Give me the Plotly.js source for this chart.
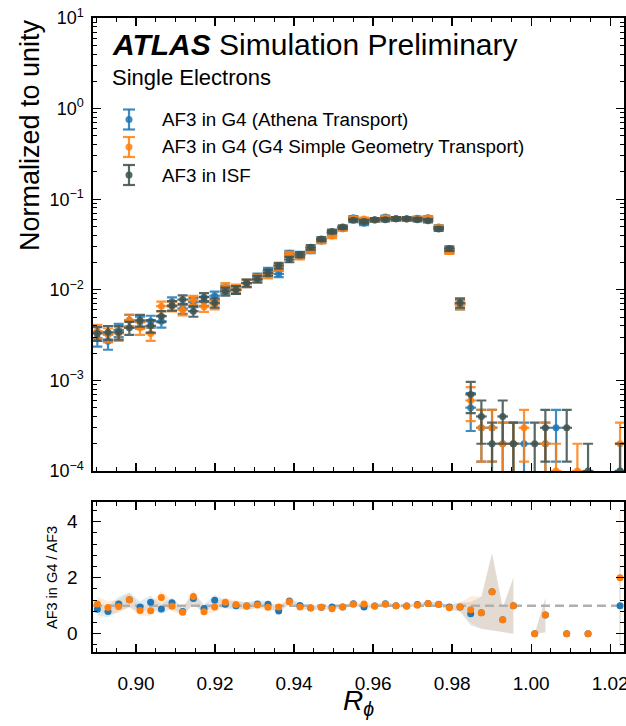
<!DOCTYPE html>
<html><head><meta charset="utf-8">
<script src="https://cdn.plot.ly/plotly-3.0.1.min.js"></script>
<style>html,body{margin:0;padding:0;background:#fff}#chart{width:626px;height:726px}</style>
</head><body><div id="chart"></div>
<script>
// ---------------- data ----------------
const binCenters = [0.8902,0.8929,0.8956,0.8983,0.9010,0.9037,0.9064,0.9091,0.9118,0.9145,
  0.9172,0.9199,0.9226,0.9253,0.9280,0.9307,0.9334,0.9361,0.9388,0.9415,
  0.9442,0.9469,0.9496,0.9523,0.9550,0.9577,0.9604,0.9631,0.9658,0.9685,
  0.9712,0.9739,0.9766,0.9793,0.9820,0.9847,0.9874,0.9901,0.9928,0.9955,
  0.9982,1.0009,1.0036,1.0063,1.0090,1.0117,1.0144,1.0171,1.0198,1.0225];
const halfBin = 0.00135;

// AF3 in ISF (reference)
const isf = [0.0033,0.0034,0.0034,0.0038,0.0046,0.0040,0.0051,0.0067,0.0078,0.0058,
  0.0083,0.0072,0.0096,0.0100,0.0119,0.0131,0.0154,0.0185,0.0216,0.0244,
  0.0294,0.0363,0.0441,0.0493,0.0584,0.0569,0.0594,0.0594,0.0609,0.0609,
  0.0594,0.0579,0.0469,0.0285,0.0072,0.0007,0.0004,0.0002,0.0004,0.0002,
  null,0.0002,0.0003,null,0.0003,null,0.0001,null,null,0.0001];
// AF3 in G4 (Athena Transport)
const athena = [0.0029,0.0027,0.0036,0.0046,0.0044,0.0045,0.0045,0.0074,0.0062,0.0073,
  0.0075,0.0086,0.0101,0.0100,0.0118,0.0139,0.0162,0.0150,0.0253,0.0246,
  0.0270,0.0345,0.0423,0.0473,0.0625,0.0541,0.0588,0.0636,0.0609,0.0603,
  0.0618,0.0625,0.0492,0.0271,0.0069,0.0005,0.0003,0.0003,0.0002,0.0002,
  0.0002,null,0.0002,0.0003,null,null,null,null,null,0.0001];
// AF3 in G4 (G4 Simple Geometry Transport)
const simpleGeo = [0.0035,0.0032,0.0033,0.0046,0.0038,0.0033,0.0066,0.0066,0.0060,0.0077,
  0.0065,0.0069,0.0108,0.0104,0.0118,0.0134,0.0146,0.0176,0.0246,0.0232,
  0.0273,0.0345,0.0392,0.0473,0.0613,0.0603,0.0588,0.0624,0.0609,0.0603,
  0.0606,0.0625,0.0488,0.0265,0.0069,0.0006,0.0003,0.0003,0.0002,0.0002,
  0.0003,null,0.0002,0.0001,null,0.0001,null,null,null,0.0002];

const seriesNames = ['AF3 in G4 (Athena Transport)','AF3 in G4 (G4 Simple Geometry Transport)','AF3 in ISF'];
const countUnit = 1e-4; // normalisation weight of one entry

// ---------------- styling ----------------
const C_BLUE = 'rgba(31,119,180,0.85)';
const C_ORANGE = 'rgba(255,127,14,0.85)';
const C_GREY = 'rgba(64,84,82,0.88)';
const FONT = 'Liberation Sans, Arial, Helvetica, sans-serif';

const W = 626, Hh = 726;
const L = 93, R = 624, T = 18, B = 652;
const PW = R - L, PH = B - T;
const px2x = px => (px - L) / PW;
const px2y = py => (B - py) / PH;

const xRange = [0.8891, 1.0235];

// ---------------- derived ----------------
const errs = s => s.map(v => v == null ? null : Math.sqrt(v * countUnit));
const ratio = s => isf.map((g, i) => g == null ? null : (s[i] || 0) / g);
const ratioErr = s => isf.map((g, i) => {
  if (g == null) return null;
  const v = s[i] || 0;
  if (v === 0) return 0;
  return (v / g) * Math.sqrt(countUnit / v + countUnit / g);
});

function upperTrace(vals, color, name) {
  return {
    x: binCenters, y: vals, name: name, type: 'scatter', mode: 'markers',
    marker: {size: 7, color: color},
    error_y: {type: 'data', array: errs(vals), color: color, thickness: 2.2, width: 5},
    error_x: {type: 'constant', value: halfBin, color: color, thickness: 2.2, width: 0},
    xaxis: 'x', yaxis: 'y', showlegend: false, cliponaxis: true, hoverinfo: 'x+y'
  };
}

function bandTraces(r, e, fillColor) {
  const out = []; let seg = [];
  const flush = () => {
    if (seg.length) {
      const xs = seg.map(i => binCenters[i]);
      const up = seg.map(i => r[i] + e[i]);
      const lo = seg.map(i => r[i] - e[i]);
      out.push({
        x: xs.concat(xs.slice().reverse(), [xs[0]]),
        y: up.concat(lo.slice().reverse(), [up[0]]),
        type: 'scatter', mode: 'lines', fill: 'toself', fillcolor: fillColor,
        line: {width: seg.length === 1 ? 1.2 : 0, color: fillColor},
        xaxis: 'x2', yaxis: 'y2', hoverinfo: 'skip', showlegend: false
      });
      seg = [];
    }
  };
  r.forEach((v, i) => { if (v == null) flush(); else seg.push(i); });
  flush();
  return out;
}

const rB = ratio(athena), eB = ratioErr(athena);
const rO = ratio(simpleGeo), eO = ratioErr(simpleGeo);

const traces = [
  upperTrace(athena, C_BLUE, seriesNames[0]),
  upperTrace(simpleGeo, C_ORANGE, seriesNames[1]),
  upperTrace(isf, C_GREY, seriesNames[2]),
  ...bandTraces(rB, eB, 'rgba(31,119,180,0.15)'),
  ...bandTraces(rO, eO, 'rgba(255,127,14,0.15)'),
  {x: xRange, y: [1, 1], type: 'scatter', mode: 'lines', xaxis: 'x2', yaxis: 'y2',
   line: {color: '#b0b0b0', width: 2.5, dash: '9px,5px'}, hoverinfo: 'skip', showlegend: false},
  {x: binCenters, y: rB, type: 'scatter', mode: 'markers', xaxis: 'x2', yaxis: 'y2',
   marker: {size: 7, color: '#1f77b4'}, showlegend: false, cliponaxis: true},
  {x: binCenters, y: rO, type: 'scatter', mode: 'markers', xaxis: 'x2', yaxis: 'y2',
   marker: {size: 7, color: '#ff7f0e'}, showlegend: false, cliponaxis: true}
];

// ---------------- axes ----------------
const logMinor = [];
for (let e = -4; e < 1; e++) for (let d = 2; d <= 9; d++) logMinor.push(d * Math.pow(10, e));
const logMajor = [1e-4, 1e-3, 1e-2, 1e-1, 1, 10];
const logText = ['10<sup>\u22124</sup>','10<sup>\u22123</sup>','10<sup>\u22122</sup>','10<sup>\u22121</sup>','10<sup>0</sup>','10<sup>1</sup>'];

const axCommon = {
  showline: true, linecolor: 'black', linewidth: 1.6, mirror: 'allticks',
  ticks: 'inside', ticklen: 8, tickwidth: 1.3, tickcolor: 'black',
  showgrid: false, zeroline: false,
  tickfont: {family: FONT, size: 19, color: 'black'}
};

const layout = {
  width: W, height: Hh,
  margin: {l: L, r: W - R, t: T, b: Hh - B},
  paper_bgcolor: 'white', plot_bgcolor: 'white',
  showlegend: false,
  xaxis: Object.assign({}, axCommon, {
    range: xRange, domain: [0, 1], anchor: 'y', showticklabels: false,
    tickmode: 'linear', tick0: 0.9, dtick: 0.02,
    minor: {dtick: 0.005, tick0: 0.9, ticks: 'inside', ticklen: 4, tickwidth: 1, tickcolor: 'black', showgrid: false}
  }),
  yaxis: Object.assign({}, axCommon, {
    type: 'log', range: [-4, 1], domain: [px2y(471), 1], anchor: 'x',
    tickmode: 'array', tickvals: logMajor, ticktext: logText, ticklabelstandoff: 4,
    tickfont: {family: FONT, size: 18, color: 'black'},
    minor: {tickmode: 'array', tickvals: logMinor, ticks: 'inside', ticklen: 4, tickwidth: 1, tickcolor: 'black', showgrid: false}
  }),
  xaxis2: Object.assign({}, axCommon, {
    range: xRange, domain: [0, 1], anchor: 'y2', matches: 'x',
    tickmode: 'linear', tick0: 0.9, dtick: 0.02, tickformat: '.2f', ticklabelstandoff: 14,
    ticklabeloverflow: 'allow',
    minor: {dtick: 0.005, tick0: 0.9, ticks: 'inside', ticklen: 4, tickwidth: 1, tickcolor: 'black', showgrid: false}
  }),
  yaxis2: Object.assign({}, axCommon, {
    range: [-0.65, 4.70], domain: [0, px2y(502)], anchor: 'x2',
    tickmode: 'array', tickvals: [0, 2, 4], ticklabelstandoff: 10,
    minor: {tick0: 0, dtick: 0.4, ticks: 'inside', ticklen: 4, tickwidth: 1, tickcolor: 'black', showgrid: false}
  }),
  shapes: [],
  annotations: [
    {xref: 'paper', yref: 'paper', x: px2x(110), y: px2y(45), xanchor: 'left', yanchor: 'middle', showarrow: false,
     text: '<b><i>ATLAS</i></b> Simulation Preliminary', font: {family: FONT, size: 30, color: 'black'}},
    {xref: 'paper', yref: 'paper', x: px2x(110), y: px2y(78), xanchor: 'left', yanchor: 'middle', showarrow: false,
     text: 'Single Electrons', font: {family: FONT, size: 22, color: 'black'}},
    {xref: 'paper', yref: 'paper', x: px2x(30), y: px2y(17), xanchor: 'center', yanchor: 'top', showarrow: false,
     textangle: -90, text: 'Normalized to unity', font: {family: FONT, size: 27, color: 'black'}},
    {xref: 'paper', yref: 'paper', x: px2x(52), y: px2y(578), xanchor: 'center', yanchor: 'middle', showarrow: false,
     textangle: -90, text: 'AF3 in G4 / AF3', font: {family: FONT, size: 14.5, color: 'black'}},
    {xref: 'paper', yref: 'paper', x: px2x(358), y: px2y(702), xanchor: 'center', yanchor: 'middle', showarrow: false,
     text: '<i>R</i><sub><i>\u03d5</i></sub>', font: {family: FONT, size: 28, color: 'black'}}
  ]
};

// manual legend with errorbar glyphs
const legendItems = [
  {label: seriesNames[0], color: C_BLUE, cy: 119.5},
  {label: seriesNames[1], color: C_ORANGE, cy: 147},
  {label: seriesNames[2], color: C_GREY, cy: 175}
];
legendItems.forEach(it => {
  const cx = 129, h = 10, cw = 6;
  const ln = {color: it.color, width: 2.2};
  layout.shapes.push({type: 'line', xref: 'paper', yref: 'paper', x0: px2x(cx), x1: px2x(cx), y0: px2y(it.cy - h), y1: px2y(it.cy + h), line: ln});
  layout.shapes.push({type: 'line', xref: 'paper', yref: 'paper', x0: px2x(cx - cw), x1: px2x(cx + cw), y0: px2y(it.cy - h), y1: px2y(it.cy - h), line: ln});
  layout.shapes.push({type: 'line', xref: 'paper', yref: 'paper', x0: px2x(cx - cw), x1: px2x(cx + cw), y0: px2y(it.cy + h), y1: px2y(it.cy + h), line: ln});
  layout.shapes.push({type: 'circle', xref: 'paper', yref: 'paper', x0: px2x(cx - 3.5), x1: px2x(cx + 3.5), y0: px2y(it.cy + 3.5), y1: px2y(it.cy - 3.5), fillcolor: it.color, line: {width: 0}});
  layout.annotations.push({xref: 'paper', yref: 'paper', x: px2x(160), y: px2y(it.cy), xanchor: 'left', yanchor: 'middle', showarrow: false,
    text: it.label, font: {family: FONT, size: 18.8, color: 'black'}});
});

Plotly.newPlot('chart', traces, layout, {staticPlot: true, displayModeBar: false});
</script>
</body></html>
